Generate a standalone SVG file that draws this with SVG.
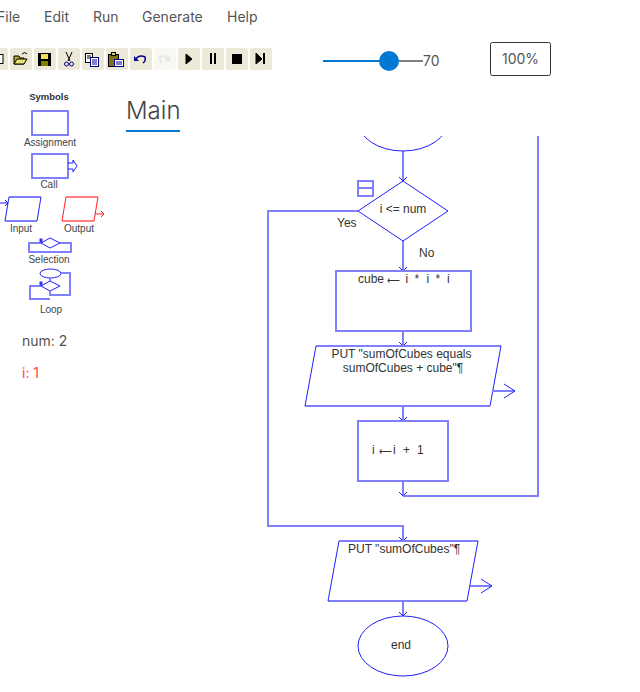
<svg xmlns="http://www.w3.org/2000/svg" width="640" height="692" viewBox="0 0 640 692">
<style>
.s{fill:none;stroke:#2020ff;stroke-width:1}
.h{fill:none;stroke:#8080ff;stroke-width:2}
.r{fill:none;stroke:#f22;stroke-width:1}
.rh{fill:none;stroke:#ff8080;stroke-width:2}
.t{font-family:"Liberation Sans",Arial,sans-serif;font-size:12px;fill:#333}
.a{font-size:9px}
.l{font-family:"Liberation Sans",Arial,sans-serif;font-size:10px;fill:#444;text-anchor:middle}
.m{font-family:Inter,"Noto Sans",sans-serif;font-size:14px;fill:#555}
.b{fill:#ece9d8}
</style>
<defs>
<clipPath id="c"><rect x="300" y="136" width="300" height="40"/></clipPath>
<path id="ah" d="M-4 -4L0 0L4 -4" class="s"/>
</defs>
<rect width="640" height="692" fill="#fff"/>
<g id="menu">
<text class="m" x="-3" y="22">File</text><text class="m" x="44" y="22">Edit</text><text class="m" x="93" y="22">Run</text><text class="m" x="142" y="22">Generate</text><text class="m" x="227" y="22">Help</text>
</g>
<g id="toolbar">
<rect class="b" x="-14" y="48" width="22" height="22" rx="2"/><rect class="b" x="10" y="48" width="22" height="22" rx="2"/><rect class="b" x="34" y="48" width="22" height="22" rx="2"/><rect class="b" x="58" y="48" width="22" height="22" rx="2"/><rect class="b" x="82" y="48" width="22" height="22" rx="2"/><rect class="b" x="106" y="48" width="22" height="22" rx="2"/><rect class="b" x="130" y="48" width="22" height="22" rx="2"/><rect fill="#f8f7f2" x="154" y="48" width="22" height="22" rx="2"/><rect class="b" x="178" y="48" width="22" height="22" rx="2"/><rect class="b" x="202" y="48" width="22" height="22" rx="2"/><rect class="b" x="226" y="48" width="22" height="22" rx="2"/><rect class="b" x="250" y="48" width="22" height="22" rx="2"/>
<rect x="-2" y="54.500" width="5" height="9" fill="#fff" stroke="#000"/>
<path d="M14 64V56H19L20 58H24V64Z" fill="#b8a830" stroke="#000"/><path d="M14 64L17 59H27L24 64Z" fill="#e8e070" stroke="#000"/><path d="M22 54Q25 51 27 54" fill="none" stroke="#000"/>
<rect x="38" y="53" width="13" height="13" fill="#000"/><rect x="41" y="54" width="7" height="5" fill="#f0e060"/><rect x="41" y="61" width="7" height="5" fill="#808000"/>
<path d="M66 52L70 61M72 52L68 61" stroke="#000" fill="none"/><circle cx="66.500" cy="64" r="2" fill="none" stroke="#008"/><circle cx="71.500" cy="64" r="2" fill="none" stroke="#008"/>
<rect x="85.500" y="53.500" width="7" height="9" fill="#fff" stroke="#000"/><path d="M87 56H91M87 58H91" stroke="#000"/><rect x="90.500" y="57.500" width="8" height="9" fill="#fff" stroke="#008"/><path d="M92 60H97M92 62H97M92 64H97" stroke="#008"/>
<rect x="108.500" y="54.500" width="10" height="12" fill="#807020" stroke="#000"/><rect x="111.500" y="52.500" width="4" height="3" fill="#e0d060" stroke="#000"/><rect x="114.500" y="59.500" width="9" height="7" fill="#fff" stroke="#008"/><path d="M116 62H122M116 64H122" stroke="#008"/>
<path d="M135 60Q139 54 145 57Q146 61 143 63" fill="none" stroke="#008" stroke-width="1.500"/><path d="M134 56V61H139Z" fill="#008"/>
<path d="M169 60Q165 54 160 57Q159 61 162 63" fill="none" stroke="#e4e4e8" stroke-width="1.500"/><path d="M170 56V61H165Z" fill="#e4e4e8"/>
<path d="M186 54L192 59L186 64Z" fill="#000" stroke="#000"/>
<rect x="210" y="53" width="2" height="11" fill="#000"/><rect x="214" y="53" width="2" height="11" fill="#000"/>
<rect x="232" y="54" width="10" height="10" fill="#000"/>
<path d="M256 53L262 59L256 64Z" fill="#000" stroke="#000"/><rect x="263" y="53" width="2" height="11" fill="#000"/>
</g>
<g id="speed-slider">
<rect x="323" y="60" width="66" height="2" fill="#0078d4"/><rect x="389" y="60" width="34" height="2" fill="#808080"/><circle cx="389" cy="61" r="10" fill="#0078d4"/>
<text x="423" y="66" font-family="Inter,sans-serif" font-size="14" fill="#555">70</text>
</g>
<g id="zoom-button">
<rect x="490.500" y="42.500" width="60" height="33" rx="2" fill="#fff" stroke="#333"/>
<text x="520.500" y="64" text-anchor="middle" font-family="Inter,sans-serif" font-size="14" fill="#555">100%</text>
</g>
<g id="tab-main">
<text x="126" y="119" font-family="Inter,sans-serif" font-weight="300" font-size="24" fill="#444">Main</text>
<rect x="126" y="130" width="54" height="2" fill="#0078d4"/>
</g>
<g id="palette">
<text x="49" y="100" text-anchor="middle" font-family="'Liberation Sans',sans-serif" font-weight="700" font-size="9.500" fill="#333">Symbols</text>
<g id="sym-assignment"><rect class="h" x="32" y="111" width="36" height="24"/><text class="l" x="50" y="146">Assignment</text></g>
<g id="sym-call"><rect class="h" x="32" y="154" width="36" height="24"/><path class="s" d="M68 163H73V160L77 166L73 172V169H68" stroke-width="1.500"/><text class="l" x="49" y="188">Call</text></g>
<g id="sym-input"><path class="h" d="M9 197H41M5 221H37"/><path class="s" d="M9 197L5 221M41 197L37 221"/><path class="s" d="M0 203H8M5 200L8 203L5 206"/><text class="l" x="21" y="232">Input</text></g>
<g id="sym-output"><path class="rh" d="M66 197H98M62 221H94"/><path class="r" d="M66 197L62 221M98 197L94 221"/><path class="r" d="M95 214H104M101 211L104 214L101 217"/><text class="l" x="79" y="232">Output</text></g>
<g id="sym-selection"><path class="h" d="M41 243H29V252H71V243H60"/><path class="s" d="M41 243L50 238L60 243L50 248Z"/><rect x="39.500" y="238.500" width="3" height="4" fill="#33f"/><text class="l" x="49" y="263">Selection</text></g>
<g id="sym-loop"><ellipse class="s" cx="50.500" cy="273.500" rx="10.500" ry="4.500"/><path class="s" d="M50 291L41 286L50 281L60 286Z"/><path class="h" d="M61 273H70V295H50V291M50 278V281M41 286H30V299H50"/><rect x="39.500" y="281.500" width="3" height="4" fill="#33f"/><text class="l" x="51" y="313">Loop</text></g>
</g>
<g id="variables">
<text x="22" y="346" font-family="Inter,sans-serif" font-size="14" fill="#555">num: 2</text>
<text x="22" y="378" font-family="Inter,sans-serif" font-size="14" fill="#f44">i: 1</text>
</g>
<g id="connectors">
<path class="h" d="M403 151V181"/><use href="#ah" x="403" y="181"/>
<path class="h" d="M403 241V271"/><use href="#ah" x="403" y="271"/>
<path class="h" d="M403 331V346"/><use href="#ah" x="403" y="346"/>
<path class="h" d="M403 406V421"/><use href="#ah" x="403" y="421"/>
<path class="h" d="M403 481V496"/><use href="#ah" x="403" y="496"/>
<path class="h" d="M403 496H538V136"/>
<path class="h" d="M358 211H268V526H403V541"/><use href="#ah" x="403" y="541"/>
<path class="h" d="M403 601V616"/><use href="#ah" x="403" y="616"/>
</g>
<g id="node-loop-top"><ellipse class="s" cx="403" cy="121" rx="45" ry="30" clip-path="url(#c)"/></g>
<g id="node-decision">
<rect class="h" x="358" y="181" width="15" height="15"/><path class="h" d="M358 188H373" stroke-width="1"/>
<path class="s" d="M403 181L448 211L403 241L358 211Z"/>
<text class="t" x="403" y="213" text-anchor="middle">i &lt;= num</text>
<text class="t" x="337" y="227">Yes</text><text class="t" x="419" y="257">No</text>
</g>
<g id="node-cube"><rect class="h" x="336" y="271" width="135" height="60"/><text class="t" y="283"><tspan x="358">cube</tspan><tspan class="a" x="387">⟵</tspan><tspan x="405.500">i</tspan><tspan x="414.500">*</tspan><tspan x="426.500">i</tspan><tspan x="435.500">*</tspan><tspan x="447">i</tspan></text></g>
<g id="node-put1"><path class="h" d="M316 346H501M305 406H490"/><path class="s" d="M316 346L305 406M501 346L490 406"/>
<path class="h" d="M492 391H515"/><path class="s" d="M504 384L515 391L504 398"/>
<text class="t" x="401.500" y="358" text-anchor="middle">PUT "sumOfCubes equals</text><text class="t" x="403" y="372" text-anchor="middle">sumOfCubes + cube"¶</text></g>
<g id="node-increment"><rect class="h" x="358" y="421" width="90" height="60"/><text class="t" y="454"><tspan x="372">i</tspan><tspan class="a" x="378.500">⟵</tspan><tspan x="393">i</tspan><tspan x="403">+</tspan><tspan x="417">1</tspan></text></g>
<g id="node-put2"><path class="h" d="M339 541H478M328 601H467"/><path class="s" d="M339 541L328 601M478 541L467 601"/>
<path class="h" d="M470 586H492"/><path class="s" d="M481 579L492 586L481 593"/>
<text class="t" x="348" y="553">PUT "sumOfCubes"¶</text></g>
<g id="node-end"><ellipse class="s" cx="403" cy="646" rx="45" ry="30"/><text class="t" x="401" y="649" text-anchor="middle">end</text></g>
</svg>
